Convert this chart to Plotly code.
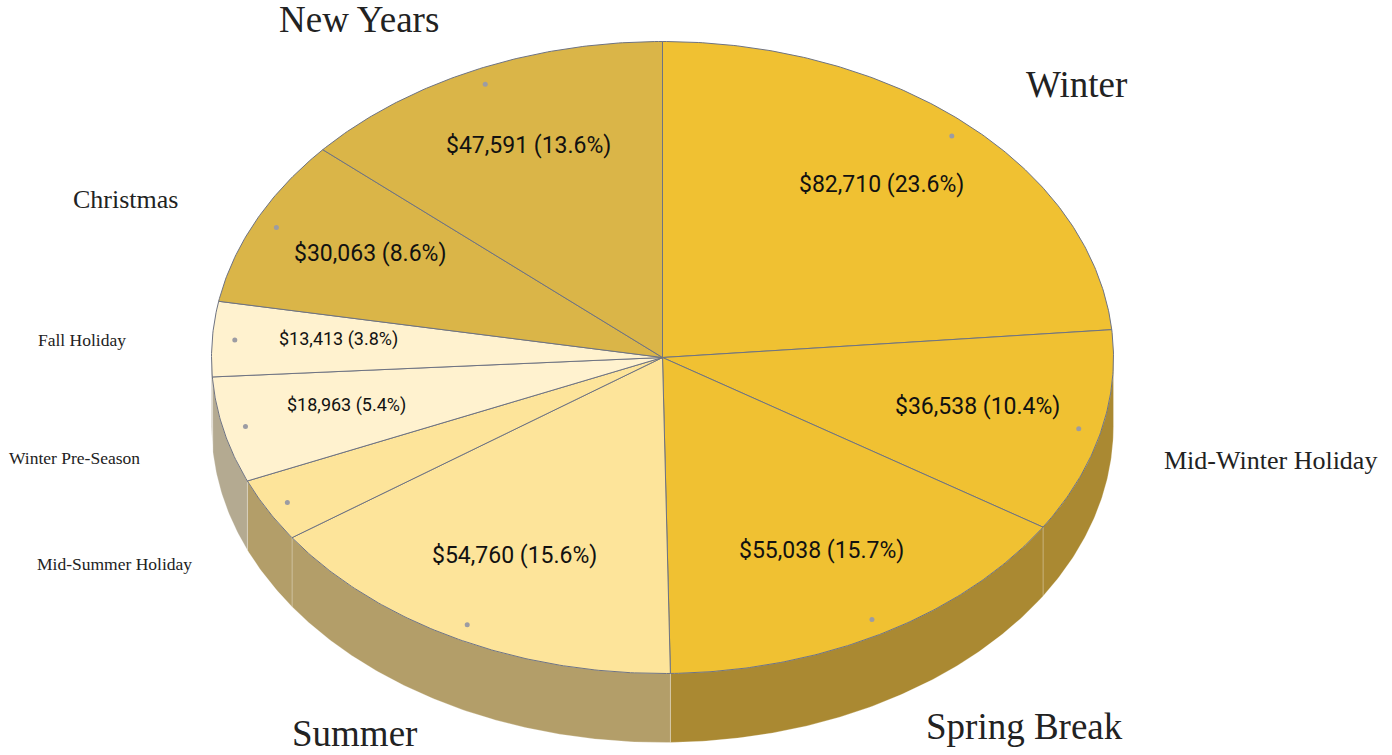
import numpy as np
import plotly.graph_objects as go

# ---- data ----
categories = ["Winter", "Mid-Winter Holiday", "Spring Break", "Summer",
              "Mid-Summer Holiday", "Winter Pre-Season", "Fall Holiday",
              "Christmas", "New Years"]
revenue = [82710, 36538, 55038, 54760, 11450, 18963, 13413, 30063, 47591]

# ---- styles ----
top_colors = ["#F0C132", "#F0C132", "#F0C132", "#FDE49A", "#FDE49A",
              "#FFF2CF", "#FFF2CF", "#DAB548", "#DAB548"]
side_colors = ["#AA8932", "#AA8932", "#AA8932", "#B39E69", "#B39E69",
               "#B4AA91", "#B4AA91", "#9A8236", "#9A8236"]
edge_color = "#6E7382"

W, H = 1392, 755
cx, cy = 662.5, 357.5      # pie centre (pixels)
rx, ry = 451.0, 316.0      # elliptical radii of top face
depth = 69.0               # thickness of the pie

total = float(sum(revenue))
pcts = [v / total * 100 for v in revenue]


def pt(t, k=1.0, dy=0.0):
    return cx + k * rx * np.sin(t), cy - k * ry * np.cos(t) + dy


def arc(t0, t1, dy=0.0):
    n = max(4, int(np.degrees(t1 - t0) * 2))
    ts = np.linspace(t0, t1, n)
    x, y = pt(ts, 1.0, dy)
    return list(x), list(y)


fig = go.Figure()

# angles of each slice (clockwise from 12 o'clock)
cum = np.concatenate([[0], np.cumsum(revenue)]) / total * 2 * np.pi
starts, ends = cum[:-1], cum[1:]

# ---- side walls (front half only: pi/2 .. 3pi/2) ----
for i in range(len(categories)):
    a = max(starts[i], np.pi / 2)
    b = min(ends[i], 3 * np.pi / 2)
    if b <= a:
        continue
    xt, yt = arc(a, b)
    xb, yb = arc(a, b, depth)
    xs = xt + xb[::-1] + [xt[0]]
    ys = yt + yb[::-1] + [yt[0]]
    fig.add_trace(go.Scatter(x=xs, y=ys, mode="lines", fill="toself",
                             fillcolor=side_colors[i],
                             line=dict(color="rgba(255,255,255,0.25)", width=1),
                             hoverinfo="skip", showlegend=False))

# ---- top faces ----
for i in range(len(categories)):
    xa, ya = arc(starts[i], ends[i])
    xs = [cx] + xa + [cx]
    ys = [cy] + ya + [cy]
    fig.add_trace(go.Scatter(x=xs, y=ys, mode="lines", fill="toself",
                             fillcolor=top_colors[i],
                             line=dict(color=edge_color, width=1),
                             hoverinfo="skip", showlegend=False))

mids = (starts + ends) / 2

# ---- anchor dots ----
dx, dyv = pt(mids, 0.95)
fig.add_trace(go.Scatter(x=list(dx), y=list(dyv), mode="markers",
                         marker=dict(color="#9C9CA3", size=5),
                         hoverinfo="skip", showlegend=False))

annotations = []
# ---- value labels ----
for i, m in enumerate(mids):
    p = pcts[i]
    if p < 3.5:
        continue
    size = 23 if p >= 6 else 18
    lx, ly = pt(m, 0.72, -5)
    annotations.append(dict(
        x=lx, y=ly, xref="x", yref="y", showarrow=False,
        text=f"${revenue[i]:,} ({p:.1f}%)",
        font=dict(family="Roboto", size=size, color="#111111"),
        xanchor="center", yanchor="middle"))

# ---- category labels ----
for i, m in enumerate(mids):
    p = pcts[i]
    size = 37 if p >= 12 else (26 if p >= 7 else 17.5)
    s, c = np.sin(m), np.cos(m)
    est_w = len(categories[i]) * 0.45 * size
    if s > 0:
        lx = min(cx + 535 * s, W - 19 - est_w)
    else:
        lx = max(cx + 535 * s, 8 + est_w)
    ly = cy + 4.5 - 376 * c + (-c * 0.6 * depth if c < 0 else 0)
    annotations.append(dict(
        x=lx, y=ly, xref="x", yref="y", showarrow=False,
        text=categories[i],
        font=dict(family="Liberation Serif", size=size, color="#222222"),
        xanchor="left" if s > 0 else "right", yanchor="middle"))

fig.update_layout(
    width=W, height=H,
    margin=dict(l=0, r=0, t=0, b=0),
    paper_bgcolor="white", plot_bgcolor="white",
    xaxis=dict(range=[0, W], visible=False, fixedrange=True),
    yaxis=dict(range=[H, 0], visible=False, fixedrange=True),
    annotations=annotations,
    showlegend=False,
)

fig.write_html("out.html")
